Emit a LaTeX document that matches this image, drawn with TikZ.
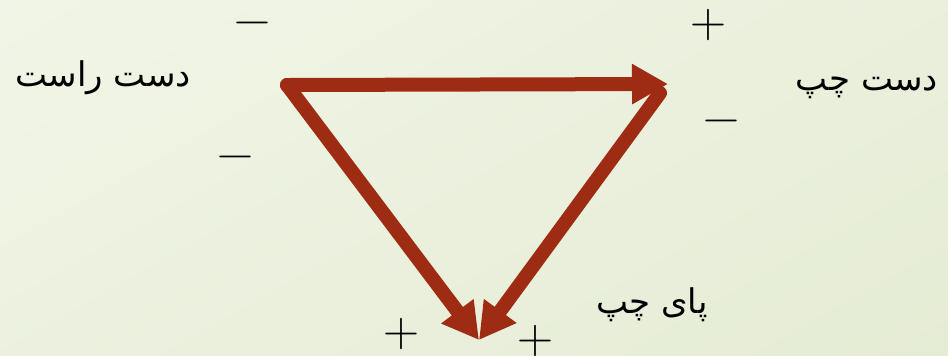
\documentclass[tikz,border=0pt]{standalone}
\usepackage{fontspec}
\usetikzlibrary{arrows.meta,shadings}
\TeXXeTstate=1
\newfontfamily\arabicfont[Script=Arabic]{DejaVu Sans}
\definecolor{leadRed}{RGB}{158,44,18}
\definecolor{bgLight}{RGB}{241,245,231}
\definecolor{bgDark}{RGB}{229,236,212}

\begin{document}
\begin{tikzpicture}[
  x=0.5pt, y=-0.5pt,
  lead/.style={
    leadRed,
    line width=7pt,
    line cap=round,
    -{Triangle[length=18pt, width=19pt]},
  },
  limb/.style={
    font=\arabicfont\fontsize{17}{20}\selectfont,
    inner sep=0pt,
  },
  sign/.style={
    font=\fontsize{25}{28}\selectfont,
    inner sep=0pt,
  },
]

  \shade[upper left=bgLight, upper right=bgDark!60!bgLight,
         lower left=bgLight!60!bgDark, lower right=bgDark]
    (0,0) rectangle (948,355);
  \useasboundingbox (0,0) rectangle (948,355);

  % corners of the triangle
  \coordinate (RA) at (287,85);
  \coordinate (LA) at (668,84);
  \coordinate (LAs) at (660,93);
  \coordinate (LL) at (479,340);

  \draw[lead] (RA) -- (LA);
  \draw[lead] (LAs) -- (LL);
  \draw[lead] (RA) -- (LL);

  \node[limb] (ra) at (103,78) {\beginR دست راست\endR};
  \node[limb] (la) at (867,88) {\beginR دست چپ\endR};
  \node[limb] (ll) at (652,305) {\beginR پای چپ\endR};

  \node[sign] (raTop) at (252,29) {−};
  \node[sign] (raBot) at (235,163) {−};
  \node[sign] (laTop) at (708,25) {+};
  \node[sign] (laBot) at (721,127) {−};
  \node[sign] (llL) at (401,334) {+};
  \node[sign] (llR) at (535,341) {+};

\end{tikzpicture}
\end{document}
